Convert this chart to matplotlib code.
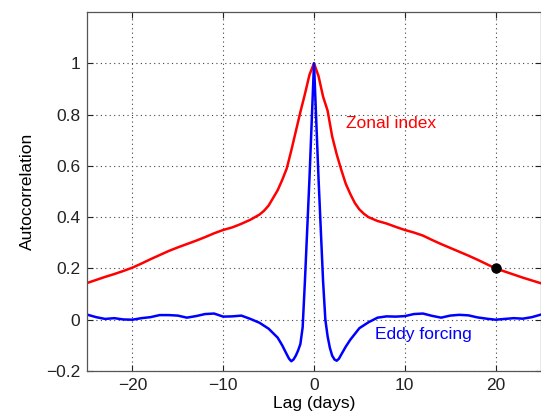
import matplotlib.pyplot as plt

plt.rcParams["font.family"] = ["Liberation Sans", "DejaVu Sans"]

# Zonal index autocorrelation
lag_zonal = [-25, -24, -23, -22, -21, -20, -19, -18, -17, -16, -15, -14, -13,
             -12, -11, -10, -9, -8, -7, -6, -5.5, -5, -4.5, -4, -3.5, -3, -2.5,
             -2, -1.5, -1, -0.5, 0, 0.5, 1, 1.5, 2, 2.5, 3, 3.5, 4, 4.5, 5,
             5.5, 6, 7, 8, 9, 10, 11, 12, 13, 14, 15, 16, 17, 18, 19, 20, 21,
             22, 23, 24, 25]
zonal = [0.143, 0.155, 0.167, 0.178, 0.190, 0.203, 0.219, 0.236, 0.252, 0.268,
         0.282, 0.295, 0.308, 0.322, 0.337, 0.350, 0.360, 0.374, 0.390, 0.410,
         0.425, 0.445, 0.475, 0.505, 0.545, 0.590, 0.660, 0.735, 0.810, 0.880,
         0.955, 1.000, 0.950, 0.870, 0.815, 0.715, 0.645, 0.585, 0.530, 0.490,
         0.455, 0.430, 0.413, 0.400, 0.385, 0.375, 0.362, 0.350, 0.340, 0.328,
         0.311, 0.295, 0.280, 0.265, 0.250, 0.234, 0.217, 0.200, 0.188, 0.176,
         0.164, 0.153, 0.142]

# Eddy forcing autocorrelation
lag_eddy = [-25, -24, -23, -22, -21, -20, -19, -18, -17, -16, -15, -14, -13,
            -12, -11, -10, -9, -8, -7, -6, -5, -4, -3.5, -3, -2.75, -2.5,
            -2.25, -2, -1.75, -1.5, -1.25, -1, -0.5, 0, 0.5, 1, 1.25, 1.5,
            1.75, 2, 2.25, 2.5, 2.75, 3, 3.5, 4, 5, 6, 7, 8, 9, 10, 11, 12,
            13, 14, 15, 16, 17, 18, 19, 20, 21, 22, 23, 24, 25]
eddy = [0.020, 0.010, 0.003, 0.006, 0.001, 0.000, 0.006, 0.010, 0.018, 0.018,
        0.016, 0.008, 0.014, 0.022, 0.024, 0.012, 0.013, 0.016, 0.003, -0.012,
        -0.035, -0.070, -0.100, -0.135, -0.152, -0.162, -0.155, -0.140,
        -0.120, -0.095, -0.030, 0.150, 0.550, 1.000, 0.550, 0.150, 0.000,
        -0.065, -0.110, -0.140, -0.155, -0.160, -0.152, -0.136, -0.105,
        -0.078, -0.033, -0.010, 0.008, 0.013, 0.012, 0.014, 0.022, 0.024,
        0.015, 0.008, 0.016, 0.019, 0.017, 0.009, 0.004, 0.000, 0.003, 0.006,
        0.004, 0.010, 0.020]

marker_lag = 20

fig = plt.figure(figsize=(5.41, 4.2), dpi=100)
ax = fig.add_axes([0.1608, 0.1167, 0.8392, 0.8547])

ax.plot(lag_zonal, zonal, color="#ff0000", linewidth=1.8)
ax.plot(lag_eddy, eddy, color="#0000ff", linewidth=1.8)
i = lag_zonal.index(marker_lag)
ax.plot(lag_zonal[i], zonal[i], "o", color="black", markersize=6.5)

ax.text(3.5, 0.764, "Zonal index", color="#ff0000", fontsize=12.5, va="center")
ax.text(6.7, -0.058, "Eddy forcing", color="#0000ff", fontsize=12.5, va="center")

ax.set_xlim(-25, 25)
ax.set_ylim(-0.2, 1.2)
ax.set_xticks([-20, -10, 0, 10, 20])
ax.set_yticks([-0.2, 0, 0.2, 0.4, 0.6, 0.8, 1])
ax.set_yticklabels(["\u22120.2", "0", "0.2", "0.4", "0.6", "0.8", "1"])
ax.set_xticklabels(["\u221220", "\u221210", "0", "10", "20"])

ax.grid(True, linestyle=(0, (1, 3)), color="#444444", linewidth=0.8)
ax.tick_params(direction="in", length=4, width=0.8, top=True, right=True,
               labelsize=12.5, colors="#222222", pad=5)
for s in ax.spines.values():
    s.set_color("#555555")
    s.set_linewidth(0.9)

ax.set_xlabel("Lag (days)", fontsize=12.5, labelpad=2)
ax.set_ylabel("Autocorrelation", fontsize=12.5, labelpad=8)

fig.savefig("out.png", dpi=100)
